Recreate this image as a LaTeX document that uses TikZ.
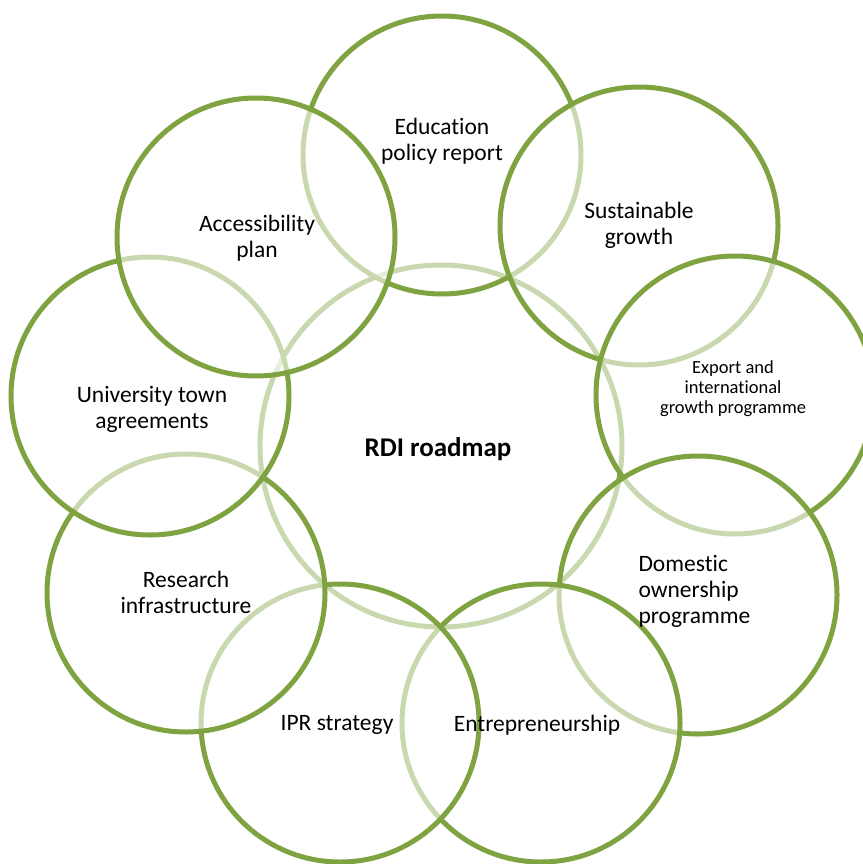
\documentclass[tikz,border=0pt]{standalone}
\usepackage{fontspec}
\setmainfont[Ligatures=NoCommon]{Carlito}
\usetikzlibrary{positioning}
\definecolor{leafgreen}{RGB}{128,163,66}

\begin{document}
\begin{tikzpicture}[x=1pt,y=-1pt,
  ring/.style={circle,draw=leafgreen,line width=5pt,fill=white,fill opacity=0.58,draw opacity=1,inner sep=0pt,minimum size=278pt},
  hub/.style={ring,minimum size=362pt},
  lbl/.style={align=center,text=black,font=\fontsize{23.5}{26}\selectfont},
  small/.style={lbl,font=\fontsize{18.5}{20}\selectfont}]
 \useasboundingbox (0,0) rectangle (862,864);
 % centre first, then the ring clockwise from the top
 \node[hub] (rdi) at (441,446) {};
 \node[ring] (edu) at (442,155) {};
 \node[ring] (sus) at (639,226) {};
 \node[ring] (exp) at (735,395) {};
 \node[ring] (dom) at (698,595) {};
 \node[ring] (ent) at (541,723) {};
 \node[ring] (ipr) at (340,723) {};
 \node[ring] (res) at (186,593) {};
 \node[ring] (uni) at (150,396) {};
 \node[ring] (acc) at (256,237) {};

 % texts on top
 \node[lbl,font=\fontsize{27}{30}\selectfont\bfseries] (rdit) at (438,449) {RDI roadmap};
 \node[lbl] (edut) at (442,141) {Education\\policy report};
 \node[lbl] (sust) at (639,225) {Sustainable\\growth};
 \node[small] (expt) at (733,389) {Export and\\international\\growth programme};
 \node[lbl,align=left,anchor=west] (domt) at (635,591) {Domestic\\ownership\\programme};
 \node[lbl] (entt) at (537,725) {Entrepreneurship};
 \node[lbl] (iprt) at (337,725) {IPR strategy};
 \node[lbl] (rest) at (186,592) {Research\\infrastructure};
 \node[lbl] (unit) at (152,409) {University town\\agreements};
 \node[lbl] (acct) at (257,238) {Accessibility\\plan};
\end{tikzpicture}
\end{document}
